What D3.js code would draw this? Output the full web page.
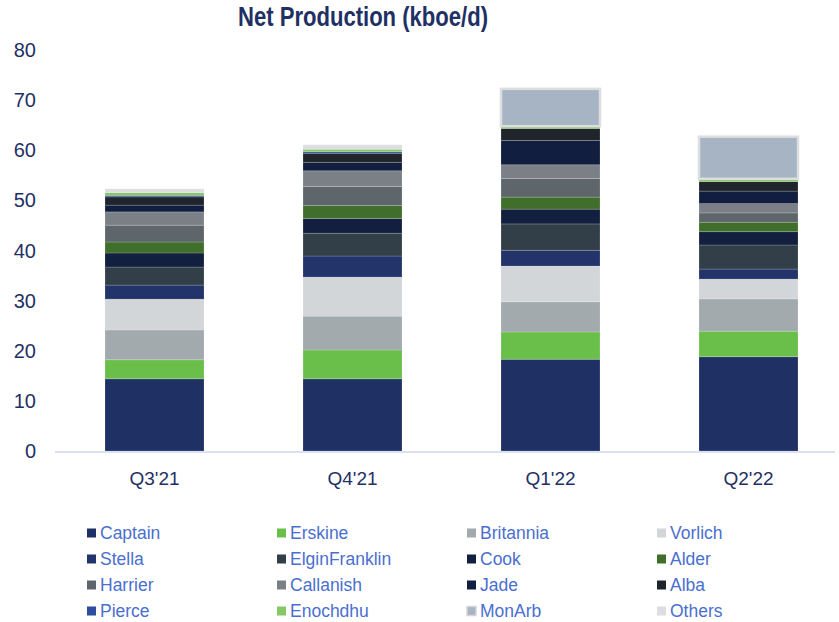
<!DOCTYPE html>
<html>
<head>
<meta charset="utf-8">
<script src="https://cdn.jsdelivr.net/npm/d3@7"></script>
<style>
  body { margin: 0; background: #fff; }
  svg { display: block; font-family: "Liberation Sans", Arial, sans-serif; }
</style>
</head>
<body>
<div id="chart"></div>
<script>

// quarters on the x axis
var quarters = ["Q3'21", "Q4'21", "Q1'22", "Q2'22"];
var yTicks = [0, 10, 20, 30, 40, 50, 60, 70, 80];

// kboe/d per field, bottom of the stack first
var captain       = [14.4, 14.4, 18.3, 18.8];
var erskine       = [3.8, 5.75, 5.45, 5.1];
var britannia     = [5.95, 6.75, 6.0, 6.45];
var vorlich       = [6.15, 7.8, 7.15, 3.95];
var stella        = [2.8, 4.2, 3.15, 2.0];
var elginFranklin = [3.6, 4.55, 5.25, 4.8];
var cook          = [2.8, 2.95, 2.95, 2.65];
var alder         = [2.2, 2.55, 2.4, 1.9];
var harrier       = [3.35, 3.8, 3.7, 1.85];
var callanish     = [2.65, 3.15, 2.75, 1.85];
var jade          = [1.35, 1.7, 4.85, 2.5];
var alba          = [1.65, 1.8, 2.4, 1.9];
var pierce        = [0.3, 0.3, 0, 0];
var enochdhu      = [0.55, 0.5, 0.45, 0.55];
var monArb        = [0, 0, 7.45, 8.4];
var others        = [0.75, 0.9, 0, 0];

var seriesNames = ["Captain", "Erskine", "Britannia", "Vorlich", "Stella", "ElginFranklin",
    "Cook", "Alder", "Harrier", "Callanish", "Jade", "Alba", "Pierce", "Enochdhu", "MonArb", "Others"];
var seriesValues = [captain, erskine, britannia, vorlich, stella, elginFranklin,
    cook, alder, harrier, callanish, jade, alba, pierce, enochdhu, monArb, others];
var seriesColors = ["#1f3064", "#6abf4b", "#a3aaad", "#d3d6d9", "#22346a", "#333f48",
    "#131f3f", "#3f6f2a", "#5e666b", "#7a8086", "#121e40", "#1f252b", "#2e4da0", "#86c868", "#a6b4c3", "#dcdedf"];

var width = 839, height = 622;

var svg = d3.select("#chart").append("svg")
    .attr("width", width)
    .attr("height", height);

// rows for d3.stack
var rows = quarters.map(function(q, i) {
    var row = {quarter: q};
    seriesNames.forEach(function(name, j) { row[name] = seriesValues[j][i]; });
    return row;
});

var stacked = d3.stack().keys(seriesNames)(rows);

var x = d3.scaleBand()
    .domain(quarters)
    .range([55.5, 847.5])
    .paddingInner(0.5)
    .paddingOuter(0.25);

var y = d3.scaleLinear()
    .domain([0, 80])
    .range([451, 50]);

// title
svg.append("text")
    .attr("x", 363)
    .attr("y", 26)
    .attr("text-anchor", "middle")
    .attr("font-family", "'Liberation Sans Narrow', 'Arial Narrow', 'Liberation Sans', Arial, sans-serif")
    .attr("font-weight", "bold")
    .attr("font-size", 27)
    .attr("textLength", 250)
    .attr("lengthAdjust", "spacingAndGlyphs")
    .attr("fill", "#1f3064")
    .text("Net Production (kboe/d)");

// y tick labels
svg.append("g").selectAll("text")
    .data(yTicks)
    .enter().append("text")
    .attr("x", 36)
    .attr("y", function(d) { return y(d); })
    .attr("dy", "0.35em")
    .attr("text-anchor", "end")
    .attr("font-size", 20)
    .attr("fill", "#1f3064")
    .text(function(d) { return d; });

// bars
var layers = svg.append("g").selectAll("g")
    .data(stacked)
    .enter().append("g")
    .attr("fill", function(d, i) { return seriesColors[i]; });

layers.selectAll("rect")
    .data(function(d) { return d.filter(function(p) { return p[1] - p[0] > 0; }); })
    .enter().append("rect")
    .attr("x", function(d) { return x(d.data.quarter); })
    .attr("width", x.bandwidth())
    .attr("y", function(d) { return y(d[1]); })
    .attr("height", function(d) { return y(d[0]) - y(d[1]); })
    .attr("stroke", "rgba(255,255,255,0.22)")
    .attr("stroke-width", 0.8);

// MonArb gets a light outline
layers.filter(function(d) { return d.key === "MonArb"; })
    .selectAll("rect")
    .attr("stroke", "#dcdedf")
    .attr("stroke-width", 2.5);

// x axis line
svg.append("line")
    .attr("x1", 55)
    .attr("x2", 835)
    .attr("y1", 452)
    .attr("y2", 452)
    .attr("stroke", "#d9e1f2")
    .attr("stroke-width", 2);

svg.append("g").selectAll("text")
    .data(quarters)
    .enter().append("text")
    .attr("x", function(d) { return x(d) + x.bandwidth() / 2; })
    .attr("y", 478)
    .attr("dy", "0.35em")
    .attr("text-anchor", "middle")
    .attr("font-size", 19)
    .attr("fill", "#1f3064")
    .text(function(d) { return d; });

// legend, 4 columns
var legendCols = [87, 277, 467, 657];
var legendRows = [533, 559, 585, 611];

var legend = svg.append("g").selectAll("g")
    .data(seriesNames)
    .enter().append("g")
    .attr("transform", function(d, i) {
        return "translate(" + legendCols[i % 4] + "," + legendRows[Math.floor(i / 4)] + ")";
    });

legend.append("rect")
    .attr("x", 0)
    .attr("y", -4.5)
    .attr("width", 9)
    .attr("height", 9)
    .attr("fill", function(d, i) { return seriesColors[i]; })
    .attr("stroke", function(d) { return d === "MonArb" ? "#d4d6d8" : "none"; })
    .attr("stroke-width", 1.5);

legend.append("text")
    .attr("x", 13)
    .attr("y", 0)
    .attr("dy", "0.36em")
    .attr("font-size", 17.5)
    .attr("fill", "#4a6fcf")
    .text(function(d) { return d; });

</script>
</body>
</html>
